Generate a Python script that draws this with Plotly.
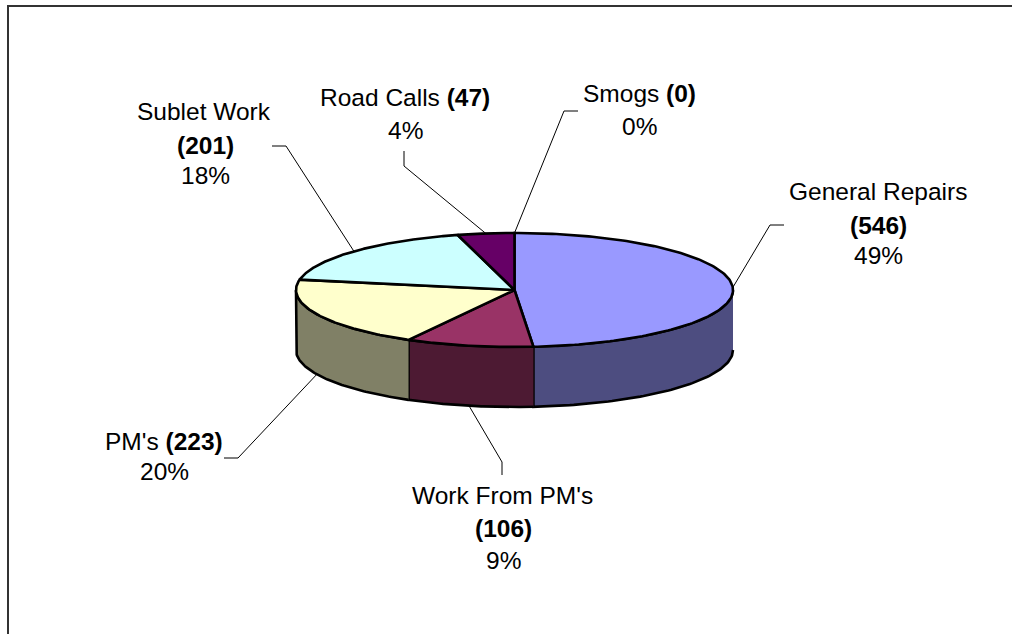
import numpy as np
import plotly.graph_objects as go

# ---- data ----
categories = ["General Repairs", "Work From PM's", "PM's", "Sublet Work", "Road Calls", "Smogs"]
values = [546, 106, 223, 201, 47, 0]
top_colors = ["#9999FF", "#993366", "#FFFFCC", "#CCFFFF", "#660066", "#0080C0"]
side_colors = ["#4D4D80", "#4D1A33", "#808066", "#668080", "#330033", "#004060"]

# ---- layout of the tilted pie, in page pixels ----
W, H = 1012, 634
CX, CY, RX, RY, DEPTH = 514.5, 290.0, 218.5, 57.0, 60.0
FONT = "Liberation Sans, Arial, sans-serif"
FS = 24.5

# label lines: (x, y) centre of each line; lines are filled from the data below
label_layout = {
    "General Repairs": {"lines": "n|v|p", "x": [878, 878, 878], "y": [191, 225, 255], "elbow": [(784, 225), (770, 225)]},
    "Work From PM's": {"lines": "n|v|p", "x": [502, 503, 503], "y": [495, 528, 560], "elbow": [(502, 475), (502, 462)]},
    "PM's": {"lines": "nv|p", "x": [164, 164], "y": [441, 471], "elbow": [(224, 458), (238, 458)]},
    "Sublet Work": {"lines": "n|v|p", "x": [204, 205, 205], "y": [111, 145, 175], "elbow": [(272, 146), (286, 146)]},
    "Road Calls": {"lines": "nv|p", "x": [405, 405], "y": [97, 130], "elbow": [(404, 151), (404, 166)]},
    "Smogs": {"lines": "nv|p", "x": [639.5, 639], "y": [93, 126], "elbow": [(578, 111), (564, 111)]},
}

total = sum(values)
edges = np.concatenate([[0.0], np.cumsum(values)]) / total * 2 * np.pi


def px(t):
    return CX + RX * np.sin(t)


def py(t):
    return CY - RY * np.cos(t)


fig = go.Figure()


def poly(xs, ys, color, width=2.6):
    fig.add_trace(go.Scatter(
        x=list(xs), y=list(ys), mode="lines", fill="toself", fillcolor=color,
        line=dict(color="#000000", width=width, shape="linear"),
        hoverinfo="skip", showlegend=False))


# leader lines and labels (drawn first so the pie outline covers their ends)
for i, cat in enumerate(categories):
    mid = (edges[i] + edges[i + 1]) / 2
    front = np.cos(mid) < -0.2
    ax, ay = px(mid), py(mid) + (DEPTH if front else 0)
    L = label_layout[cat]
    (x0, y0), (x1, y1) = L["elbow"]
    fig.add_trace(go.Scatter(x=[x0, x1, ax], y=[y0, y1, ay], mode="lines",
                             line=dict(color="#000000", width=1),
                             hoverinfo="skip", showlegend=False))
    pct = f"{values[i] / total * 100:.0f}%"
    bold = f"<b>({values[i]})</b>"
    rows = {"n|v|p": [cat, bold, pct], "nv|p": [f"{cat} {bold}", pct]}[L["lines"]]
    for txt, lx, ly in zip(rows, L["x"], L["y"]):
        fig.add_annotation(x=lx, y=ly, text=txt, showarrow=False, xanchor="center", yanchor="middle",
                           font=dict(family=FONT, size=FS, color="#000000"))

# visible wall of the pie: the front half of the ellipse
for i, cat in enumerate(categories):
    a = max(edges[i], np.pi / 2)
    b = min(edges[i + 1], 3 * np.pi / 2)
    if b <= a:
        continue
    t = np.linspace(a, b, 80)
    poly(np.r_[px(t), px(t[::-1])], np.r_[py(t), py(t[::-1]) + DEPTH], side_colors[i])

# top face
for i, cat in enumerate(categories):
    if values[i] == 0:
        continue
    t = np.linspace(edges[i], edges[i + 1], 160)
    poly(np.r_[CX, px(t), CX], np.r_[CY, py(t), CY], top_colors[i])

fig.update_layout(
    width=W, height=H, margin=dict(l=0, r=0, t=0, b=0),
    paper_bgcolor="#FFFFFF", plot_bgcolor="#FFFFFF", showlegend=False,
    xaxis=dict(range=[0, W], visible=False, fixedrange=True),
    yaxis=dict(range=[H, 0], visible=False, fixedrange=True),
    shapes=[
        dict(type="line", xref="x", yref="y", x0=8, x1=W, y0=6, y1=6, line=dict(color="#333333", width=2)),
        dict(type="line", xref="x", yref="y", x0=8, x1=8, y0=5, y1=H, line=dict(color="#333333", width=2)),
    ],
)

fig.write_html("out.html", config={"displayModeBar": False},
               post_script="document.body.style.margin='0';document.body.style.overflow='hidden';")
